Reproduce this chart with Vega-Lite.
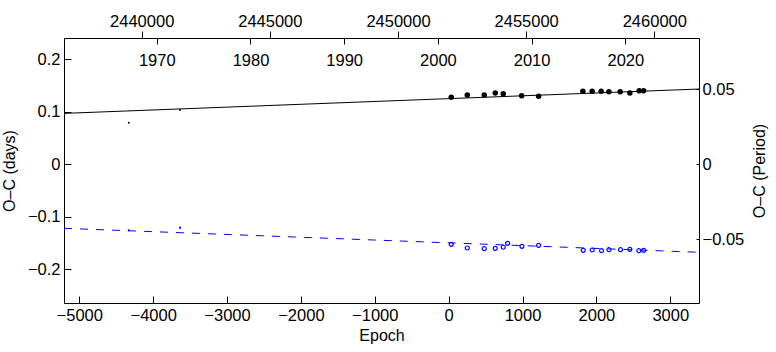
{
  "$schema": "https://vega.github.io/schema/vega-lite/v6.json",
  "width": 635,
  "height": 265,
  "autosize": "none",
  "padding": {"left": 64, "top": 38, "right": 77, "bottom": 49},
  "background": "white",
  "config": {
    "font": "Liberation Sans",
    "view": {"stroke": null},
    "axis": {
      "grid": false,
      "domainColor": "black",
      "domainWidth": 1,
      "tickColor": "black",
      "tickWidth": 1,
      "labelColor": "black",
      "titleColor": "black",
      "labelFont": "Liberation Sans",
      "titleFont": "Liberation Sans",
      "labelFontSize": 16.5,
      "titleFontSize": 16,
      "titleFontWeight": "normal"
    }
  },
  "datasets": {
    "obs": [
      {"epoch": -4330, "oc": 0.0792, "kind": "early", "comp": "primary"},
      {"epoch": -3636, "oc": 0.1034, "kind": "early", "comp": "primary"},
      {"epoch": 35, "oc": 0.1276, "kind": "modern", "comp": "primary"},
      {"epoch": 252, "oc": 0.132, "kind": "modern", "comp": "primary"},
      {"epoch": 482, "oc": 0.132, "kind": "modern", "comp": "primary"},
      {"epoch": 631, "oc": 0.1358, "kind": "modern", "comp": "primary"},
      {"epoch": 739, "oc": 0.1345, "kind": "modern", "comp": "primary"},
      {"epoch": 988, "oc": 0.1307, "kind": "modern", "comp": "primary"},
      {"epoch": 1218, "oc": 0.1295, "kind": "modern", "comp": "primary"},
      {"epoch": 1817, "oc": 0.139, "kind": "modern", "comp": "primary"},
      {"epoch": 1943, "oc": 0.139, "kind": "modern", "comp": "primary"},
      {"epoch": 2065, "oc": 0.139, "kind": "modern", "comp": "primary"},
      {"epoch": 2169, "oc": 0.1383, "kind": "modern", "comp": "primary"},
      {"epoch": 2322, "oc": 0.1383, "kind": "modern", "comp": "primary"},
      {"epoch": 2453, "oc": 0.1358, "kind": "modern", "comp": "primary"},
      {"epoch": 2579, "oc": 0.14, "kind": "modern", "comp": "primary"},
      {"epoch": 2639, "oc": 0.14, "kind": "modern", "comp": "primary"},
      {"epoch": -4330, "oc": -0.1257, "kind": "early", "comp": "secondary"},
      {"epoch": -3636, "oc": -0.1208, "kind": "early", "comp": "secondary"},
      {"epoch": 35, "oc": -0.1524, "kind": "modern", "comp": "secondary"},
      {"epoch": 252, "oc": -0.1594, "kind": "modern", "comp": "secondary"},
      {"epoch": 482, "oc": -0.1608, "kind": "modern", "comp": "secondary"},
      {"epoch": 631, "oc": -0.16, "kind": "modern", "comp": "secondary"},
      {"epoch": 739, "oc": -0.158, "kind": "modern", "comp": "secondary"},
      {"epoch": 798, "oc": -0.1505, "kind": "modern", "comp": "secondary"},
      {"epoch": 992, "oc": -0.1562, "kind": "modern", "comp": "secondary"},
      {"epoch": 1218, "oc": -0.1543, "kind": "modern", "comp": "secondary"},
      {"epoch": 1822, "oc": -0.1638, "kind": "modern", "comp": "secondary"},
      {"epoch": 1943, "oc": -0.1632, "kind": "modern", "comp": "secondary"},
      {"epoch": 2070, "oc": -0.1646, "kind": "modern", "comp": "secondary"},
      {"epoch": 2169, "oc": -0.1627, "kind": "modern", "comp": "secondary"},
      {"epoch": 2327, "oc": -0.1627, "kind": "modern", "comp": "secondary"},
      {"epoch": 2453, "oc": -0.1619, "kind": "modern", "comp": "secondary"},
      {"epoch": 2575, "oc": -0.1646, "kind": "modern", "comp": "secondary"},
      {"epoch": 2639, "oc": -0.1638, "kind": "modern", "comp": "secondary"}
    ],
    "fit": [
      {"epoch": -5207, "oc": 0.097, "comp": "primary"},
      {"epoch": 3389, "oc": 0.1434, "comp": "primary"},
      {"epoch": -5207, "oc": -0.1219, "comp": "secondary"},
      {"epoch": 3389, "oc": -0.1676, "comp": "secondary"}
    ],
    "jdaxis": [{"jd": 2450000}],
    "yearaxis": [{"year": 2000}],
    "peraxis": [{"phase": 0}]
  },
  "layer": [
    {
      "encoding": {
        "x": {
          "field": "epoch", "type": "quantitative",
          "scale": {"domain": [-5207, 3389], "nice": false, "zero": false},
          "axis": {
            "orient": "bottom", "title": "Epoch",
            "values": [-5000, -4000, -3000, -2000, -1000, 0, 1000, 2000, 3000],
            "labelExpr": "replace(format(datum.value, 'd'), '-', '\u2212')",
            "tickSize": -7, "labelPadding": 11, "titlePadding": 4,
            "labelFlush": false
          }
        },
        "y": {
          "field": "oc", "type": "quantitative",
          "scale": {"domain": [-0.2642, 0.2406], "nice": false, "zero": false},
          "axis": {
            "orient": "left", "title": "O\u2013C (days)",
            "values": [-0.2, -0.1, 0, 0.1, 0.2],
            "labelExpr": "datum.value == 0 ? '0' : replace(format(datum.value, '.1f'), '-', '\u2212')",
            "tickSize": -7, "labelPadding": 11, "titlePadding": 10,
            "labelFlush": false
          }
        }
      },
      "layer": [
        {
          "data": {"name": "fit"},
          "transform": [{"filter": "datum.comp == 'primary'"}],
          "mark": {"type": "line", "color": "black", "strokeWidth": 1, "clip": true}
        },
        {
          "data": {"name": "fit"},
          "transform": [{"filter": "datum.comp == 'secondary'"}],
          "mark": {"type": "line", "color": "#0000ff", "strokeWidth": 1, "strokeDash": [8, 8], "clip": true}
        },
        {
          "data": {"name": "obs"},
          "transform": [{"filter": "datum.comp == 'primary' && datum.kind == 'modern'"}],
          "mark": {"type": "point", "shape": "circle", "filled": true, "color": "black", "size": 30, "opacity": 1}
        },
        {
          "data": {"name": "obs"},
          "transform": [{"filter": "datum.comp == 'secondary' && datum.kind == 'modern'"}],
          "mark": {"type": "point", "shape": "circle", "filled": false, "color": "#0000ff", "size": 16, "strokeWidth": 1.2, "opacity": 1}
        },
        {
          "data": {"name": "obs"},
          "transform": [{"filter": "datum.comp == 'primary' && datum.kind == 'early'"}],
          "mark": {"type": "point", "shape": "circle", "filled": true, "color": "black", "size": 4, "opacity": 1}
        },
        {
          "data": {"name": "obs"},
          "transform": [{"filter": "datum.comp == 'secondary' && datum.kind == 'early'"}],
          "mark": {"type": "point", "shape": "circle", "filled": true, "color": "#0000ff", "size": 5, "opacity": 1}
        }
      ]
    },
    {
      "data": {"name": "jdaxis"},
      "mark": {"type": "point", "opacity": 0},
      "encoding": {
        "x": {
          "field": "jd", "type": "quantitative",
          "scale": {"domain": [2436968, 2461744], "nice": false, "zero": false},
          "axis": {
            "orient": "top", "title": null,
            "values": [2440000, 2445000, 2450000, 2455000, 2460000],
            "format": "d", "tickSize": 7, "labelPadding": 2, "labelFlush": false
          }
        }
      }
    },
    {
      "data": {"name": "yearaxis"},
      "mark": {"type": "point", "opacity": 0},
      "encoding": {
        "x": {
          "field": "year", "type": "quantitative",
          "scale": {"domain": [1960.1, 2027.86], "nice": false, "zero": false},
          "axis": {
            "orient": "bottom", "title": null, "domain": false, "offset": -265,
            "values": [1970, 1980, 1990, 2000, 2010, 2020],
            "format": "d", "tickSize": 6, "labelPadding": 8, "labelFlush": false
          }
        }
      }
    },
    {
      "data": {"name": "peraxis"},
      "mark": {"type": "point", "opacity": 0},
      "encoding": {
        "y": {
          "field": "phase", "type": "quantitative",
          "scale": {"domain": [-0.0925, 0.0842], "nice": false, "zero": false},
          "axis": {
            "orient": "right", "title": "O\u2013C (Period)", "titleAngle": -90,
            "values": [-0.05, 0, 0.05],
            "labelExpr": "datum.value == 0 ? '0' : replace(format(datum.value, '.2f'), '-', '\u2212')",
            "tickSize": -3, "labelPadding": 6, "titlePadding": 24,
            "labelFlush": false
          }
        }
      }
    }
  ],
  "resolve": {
    "scale": {"x": "independent", "y": "independent"},
    "axis": {"x": "independent", "y": "independent"}
  }
}
